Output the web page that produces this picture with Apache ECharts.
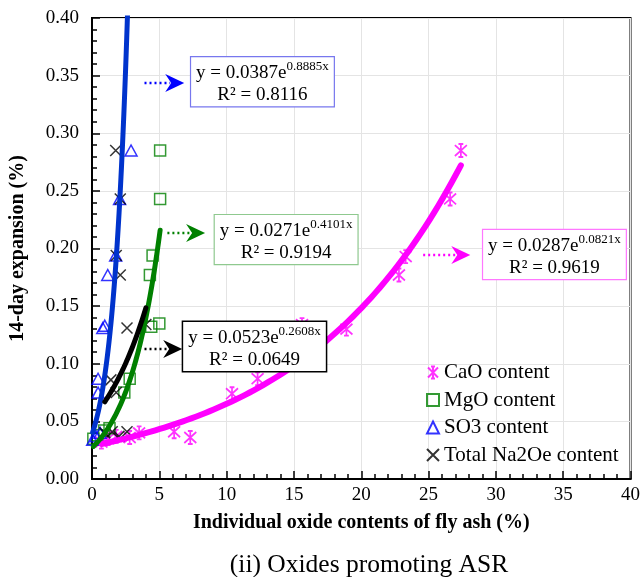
<!DOCTYPE html>
<html>
<head>
<meta charset="utf-8">
<script src="https://cdn.jsdelivr.net/npm/echarts@6/dist/echarts.min.js"></script>
<style>
  html, body { margin: 0; padding: 0; background: #fff; }
  #chart { width: 643px; height: 577px; }
</style>
</head>
<body>
<div id="chart"></div>
<script>
// ---- measured data: oxide content (%) vs 14-day expansion (%) ----
const caoX  = [0.7, 1.2, 1.8, 2.8, 3.5, 6.1, 7.3, 10.4, 12.3, 15.6, 18.9, 22.8, 23.3, 26.6, 27.4];
const caoY  = [0.032, 0.035, 0.037, 0.036, 0.040, 0.041, 0.036, 0.074, 0.087, 0.134, 0.130, 0.177, 0.193, 0.243, 0.285];

const mgoX  = [0.1, 0.4, 0.9, 1.3, 2.4, 2.8, 4.3, 4.4, 4.5, 5.0, 5.06, 5.06];
const mgoY  = [0.035, 0.038, 0.042, 0.044, 0.075, 0.087, 0.177, 0.132, 0.194, 0.135, 0.243, 0.285];

const so3X  = [0.05, 0.3, 0.6, 0.45, 0.45, 0.8, 0.95, 1.17, 1.76, 2.05, 2.9];
const so3Y  = [0.034, 0.037, 0.040, 0.075, 0.087, 0.131, 0.133, 0.177, 0.194, 0.243, 0.285];

const na2oX = [0.95, 1.5, 2.0, 2.6, 1.4, 1.8, 2.6, 4.0, 2.1, 1.8, 2.1, 1.76];
const na2oY = [0.040, 0.041, 0.037, 0.041, 0.086, 0.075, 0.131, 0.134, 0.177, 0.194, 0.243, 0.285];

// ---- exponential trendlines y = a·e^(b·x), order: CaO, MgO, SO3, Na2Oe ----
const seriesNames = ['CaO content', 'MgO content', 'SO3 content', 'Total Na2Oe content'];
const fitA  = [0.0287, 0.0271, 0.0387, 0.0523];
const fitB  = [0.0821, 0.4101, 0.8885, 0.2608];
const fitR2 = ['0.9619', '0.9194', '0.8116', '0.0649'];

// ---- axis ticks ----
const xTicks = [0, 5, 10, 15, 20, 25, 30, 35, 40];
const yTicks = [0, 0.05, 0.10, 0.15, 0.20, 0.25, 0.30, 0.35, 0.40];

// ---- styling ----
const markColors  = ['#ff00ff', '#008000', '#0000ff', '#000000'];
const lineColors  = ['#ff00ff', '#008000', '#0033cc', '#000000'];
const arrowColors = ['#ff00ff', '#008000', '#0000ff', '#000000'];
const lineWidths  = [6, 5, 5, 5];
const boxText     = ['#ff00ff', '#339933', '#2020cc', '#000000'];
const boxBorder   = ['#ff77ff', '#8fc98f', '#7777ee', '#000000'];
const FONT = '"Liberation Serif", "Times New Roman", serif';

const asterisk = 'path://M0,-6L0,6M-5,-5L5,5M-5,5L5,-5M-2,-6L2,-6M-2,6L2,6';
const cross = 'path://M-5,-5L5,5M-5,5L5,-5';
const symbols = [asterisk, 'rect', 'triangle', cross];
const symbolSizes = [[12, 13], 11, [12, 11], 11];

// annotation anchors in data units: box centre x, box top y, arrow start x, arrow tip x, arrow y
const boxCX   = [34.35, 14.42, 12.66, 12.07];
const boxTopY = [0.216, 0.229, 0.366, 0.1362];
const arrX0   = [24.6, 5.6, 3.9, 3.9];
const arrX1   = [28.1, 8.4, 6.85, 6.7];
const arrY    = [0.1944, 0.2134, 0.3436, 0.1128];

const xs = [caoX, mgoX, so3X, na2oX];
const ys = [caoY, mgoY, so3Y, na2oY];

function zip(a, b) { return a.map((v, i) => [v, b[i]]); }

function trend(k) {
  const lo = Math.min(...xs[k]), hi = Math.max(...xs[k]);
  const pts = [];
  const n = 80;
  for (let i = 0; i <= n; i++) {
    const x = lo + (hi - lo) * i / n;
    pts.push([x, fitA[k] * Math.exp(fitB[k] * x)]);
  }
  return pts;
}

const series = [];
for (let k = 0; k < 4; k++) {
  series.push({
    name: seriesNames[k],
    type: 'scatter',
    data: zip(xs[k], ys[k]),
    symbol: symbols[k],
    symbolSize: symbolSizes[k],
    itemStyle: { color: 'rgba(0,0,0,0)', borderColor: markColors[k], borderWidth: k === 0 ? 1.8 : 1.5 },
    emphasis: { disabled: true },
    z: 2
  });
}
for (let k = 0; k < 4; k++) {
  series.push({
    name: seriesNames[k] + ' trend',
    type: 'line',
    data: trend(k),
    showSymbol: false,
    smooth: false,
    clip: true,
    lineStyle: { color: lineColors[k], width: lineWidths[k], cap: 'round', join: 'round' },
    emphasis: { disabled: true },
    silent: true,
    z: 3
  });
}

const chart = echarts.init(document.getElementById('chart'), null, { renderer: 'canvas' });

chart.setOption({
  animation: false,
  backgroundColor: '#fff',
  grid: { left: 92, right: 6, top: 18, bottom: 98, show: true, borderColor: '#000', borderWidth: 2 },
  xAxis: {
    type: 'value', min: xTicks[0], max: xTicks[xTicks.length - 1], interval: xTicks[1] - xTicks[0],
    name: 'Individual oxide contents of fly ash (%)',
    nameLocation: 'middle', nameGap: 34,
    nameTextStyle: { fontFamily: FONT, fontWeight: 'bold', fontSize: 20, color: '#000' },
    axisLine: { show: true, lineStyle: { color: '#000', width: 2 } },
    axisTick: { show: true, inside: true, length: 8, lineStyle: { color: '#000', width: 1.5 } },
    minorTick: { show: true, splitNumber: 5, length: 5, lineStyle: { color: '#000', width: 1.5 } },
    axisLabel: { fontFamily: FONT, fontSize: 19, color: '#000', margin: 7 },
    splitLine: { show: true, lineStyle: { color: '#e4e4e4', width: 1 } }
  },
  yAxis: {
    type: 'value', min: yTicks[0], max: yTicks[yTicks.length - 1], interval: 0.05,
    name: '14-day expansion (%)',
    nameLocation: 'middle', nameGap: 64,
    nameTextStyle: { fontFamily: FONT, fontWeight: 'bold', fontSize: 20, color: '#000' },
    axisLine: { show: true, lineStyle: { color: '#000', width: 2 } },
    axisTick: { show: true, inside: true, length: 8, lineStyle: { color: '#000', width: 1.5 } },
    minorTick: { show: true, splitNumber: 5, length: 5, lineStyle: { color: '#000', width: 1.5 } },
    axisLabel: { fontFamily: FONT, fontSize: 19, color: '#000', margin: 13, formatter: v => v.toFixed(2) },
    splitLine: { show: true, lineStyle: { color: '#e4e4e4', width: 1 } }
  },
  legend: {
    data: seriesNames,
    orient: 'vertical',
    left: 421, top: 357,
    itemWidth: 12, itemHeight: 12, itemGap: 6.5,
    textStyle: { fontFamily: FONT, fontSize: 21, color: '#000', lineHeight: 20 },
    selectedMode: false
  },
  series: series
});

// equation boxes and dotted arrows placed through the axis scales
const graphics = [];
for (let k = 0; k < 4; k++) {
  const top = chart.convertToPixel({ gridIndex: 0 }, [boxCX[k], boxTopY[k]]);
  const a0 = chart.convertToPixel({ gridIndex: 0 }, [arrX0[k], arrY[k]]);
  const a1 = chart.convertToPixel({ gridIndex: 0 }, [arrX1[k], arrY[k]]);
  const c = boxText[k];
  graphics.push({
    type: 'text', x: top[0], y: top[1], z: 10,
    style: {
      text: '{e|y = ' + fitA[k].toFixed(4) + 'e}{s|' + fitB[k].toFixed(4) + 'x}\n{e|R² = ' + fitR2[k] + '}',
      align: 'center', verticalAlign: 'top',
      backgroundColor: '#fff', borderColor: boxBorder[k], borderWidth: k === 3 ? 1.5 : 1.2,
      padding: [3, 5, 2, 5],
      rich: {
        e: { fontFamily: FONT, fontSize: 19, color: c, lineHeight: 22, verticalAlign: 'bottom' },
        s: { fontFamily: FONT, fontSize: 13, color: c, lineHeight: 14, verticalAlign: 'top' }
      }
    }
  });
  graphics.push({
    type: 'line', z: 10,
    shape: { x1: a0[0], y1: a0[1], x2: a1[0] - 14, y2: a1[1] },
    style: { stroke: arrowColors[k], lineWidth: 2.5, lineDash: [2, 3] }
  });
  graphics.push({
    type: 'polygon', z: 10,
    shape: { points: [[a1[0], a1[1]], [a1[0] - 19, a1[1] - 9], [a1[0] - 13, a1[1]], [a1[0] - 19, a1[1] + 9]] },
    style: { fill: arrowColors[k] }
  });
}
graphics.push({
  type: 'text', x: 369, y: 565, z: 10,
  style: { text: '(ii) Oxides promoting ASR', fontFamily: FONT, fontSize: 25.5, fill: '#000', align: 'center', verticalAlign: 'middle' }
});
chart.setOption({ graphic: graphics });
</script>
</body>
</html>
